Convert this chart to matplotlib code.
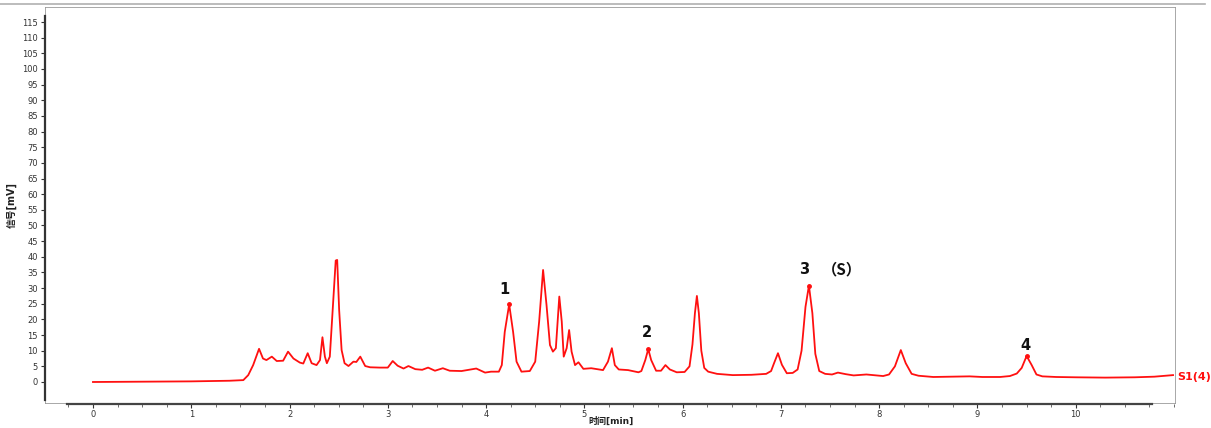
import matplotlib.pyplot as plt
from matplotlib.lines import Line2D
from matplotlib.patches import Rectangle
from matplotlib.ticker import MultipleLocator

# chromatogram trace: time [min], signal [mV]
time_min = [
    0.0, 0.5, 1.0, 1.39, 1.53, 1.58, 1.63, 1.69, 1.73, 1.765, 1.82, 1.87,
    1.935, 1.985, 2.04, 2.105, 2.14, 2.185, 2.225, 2.275, 2.31, 2.335, 2.36,
    2.38, 2.41, 2.445, 2.47, 2.485, 2.505, 2.53, 2.56, 2.60, 2.65, 2.68, 2.72,
    2.77, 2.82, 2.92, 3.0, 3.05, 3.10, 3.16, 3.21, 3.28, 3.35, 3.41, 3.48,
    3.56, 3.63, 3.75, 3.90, 3.99, 4.05, 4.13, 4.16, 4.19, 4.235, 4.275, 4.31,
    4.36, 4.445, 4.50, 4.54, 4.58, 4.615, 4.65, 4.68, 4.71, 4.745, 4.77, 4.79,
    4.82, 4.845, 4.87, 4.905, 4.94, 4.99, 5.07, 5.19, 5.24, 5.28, 5.31, 5.35,
    5.445, 5.55, 5.58, 5.62, 5.65, 5.68, 5.73, 5.78, 5.825, 5.87, 5.94, 6.02,
    6.07, 6.10, 6.125, 6.145, 6.165, 6.19, 6.22, 6.26, 6.35, 6.51, 6.70, 6.85,
    6.90, 6.93, 6.97, 7.01, 7.06, 7.12, 7.17, 7.21, 7.25, 7.285, 7.32, 7.35,
    7.39, 7.45, 7.52, 7.58, 7.66, 7.74, 7.87, 8.04, 8.10, 8.16, 8.22, 8.27,
    8.33, 8.40, 8.55, 8.75, 8.92, 9.05, 9.23, 9.33, 9.40, 9.45, 9.50, 9.55,
    9.60, 9.66, 9.80, 10.0, 10.3, 10.6, 10.8, 10.99,
]
signal_mv = [
    0.0, 0.1, 0.2, 0.4, 0.6, 2.2, 5.4, 10.6, 7.5, 7.0, 8.1, 6.7,
    6.8, 9.7, 7.5, 6.2, 5.9, 9.2, 6.0, 5.4, 7.0, 14.3, 8.1,
    6.0, 8.1, 26.2, 38.8, 39.0, 23.0, 10.2, 6.0, 5.1, 6.5, 6.4, 8.1,
    5.1, 4.7, 4.6, 4.6, 6.7, 5.2, 4.3, 5.1, 4.1, 3.9, 4.6, 3.6,
    4.4, 3.6, 3.5, 4.3, 3.0, 3.3, 3.3, 5.4, 16.0, 24.8, 16.0, 6.5,
    3.3, 3.5, 6.5, 19.3, 35.8, 24.6, 11.8, 9.7, 10.8, 27.3, 19.3, 8.1,
    10.8, 16.6, 9.7, 5.4, 6.3, 4.2, 4.4, 3.8, 6.5, 10.8, 5.4, 4.0,
    3.8, 3.1, 3.5, 7.0, 10.5, 7.0, 3.6, 3.6, 5.4, 4.0, 3.1, 3.2,
    5.0, 12.0, 22.0, 27.5, 22.0, 10.0, 4.5, 3.3, 2.6, 2.2, 2.3, 2.6,
    3.5, 6.0, 9.2, 5.5, 2.8, 2.9, 4.0, 10.0, 24.0, 30.8, 22.0, 9.0,
    3.5, 2.6, 2.4, 3.0, 2.5, 2.1, 2.4, 1.9, 2.4, 5.0, 10.2, 6.0,
    2.6, 2.0, 1.6, 1.7, 1.8, 1.6, 1.6, 1.9, 2.7, 4.5, 8.3, 5.5,
    2.4, 1.8, 1.6, 1.5, 1.4, 1.5, 1.7, 2.2,
]

# labelled peaks: label text, apex time, apex height
peak_labels = ["1", "2", "3", "4"]
peak_times = [4.235, 5.65, 7.285, 9.50]
peak_heights = [24.8, 10.5, 30.8, 8.3]
label_x = [4.19, 5.64, 7.24, 9.49]
label_y = [29.4, 15.7, 35.8, 11.8]
std_tag = "（S）"  # reference-standard tag next to peak 3
std_tag_x = 7.62

plt.rcParams['font.family'] = ['DejaVu Sans', 'Noto Sans CJK SC']

fig = plt.figure(figsize=(12.11, 4.28), dpi=100)
ax = fig.add_axes([45 / 1211, 1 - 404 / 428, (1176 - 45) / 1211, (404 - 7) / 428])

ax.plot(time_min, signal_mv, color='#ff1010', lw=1.3)
ax.plot(peak_times, peak_heights, 'o', color='#ff1010', ms=2.5)

for lab, lx, ly in zip(peak_labels, label_x, label_y):
    ax.text(lx, ly, lab, fontsize=10.5, fontweight='bold', color='#111111',
            ha='center', va='center')
ax.text(std_tag_x, label_y[2], std_tag, fontsize=11, fontweight='bold',
        color='#111111', ha='center', va='center',
        family=['Noto Sans CJK SC', 'DejaVu Sans'])

ax.set_xlim(-0.488, 11.02)
ax.set_ylim(-7.03, 119.8)

# gray outer frame, dark axis lines
for s in ax.spines.values():
    s.set_visible(False)
ax.add_patch(Rectangle((0, 0), 1, 1, transform=ax.transAxes, fill=False,
                       ec='#9a9a9a', lw=1.2, zorder=0))
ax.spines['left'].set_visible(True)
ax.spines['left'].set_bounds(-5.8, 117)
ax.spines['left'].set_color('#333333')
ax.spines['left'].set_linewidth(1.6)
ax.spines['bottom'].set_visible(True)
ax.spines['bottom'].set_position(('data', -7.03))
ax.spines['bottom'].set_bounds(-0.26, 10.78)
ax.spines['bottom'].set_color('#444444')
ax.spines['bottom'].set_linewidth(1.6)

ax.set_yticks(range(0, 120, 5))
ax.xaxis.set_minor_locator(MultipleLocator(0.25))
ax.set_xticks(range(0, 11))
ax.tick_params(axis='both', which='major', labelsize=6, colors='#333333',
               length=3, width=0.8, pad=2)
ax.tick_params(axis='x', which='minor', length=2, width=0.6, color='#555555')
ax.tick_params(axis='x', pad=1.5)

ax.set_ylabel('信号[mV]', fontsize=7, fontweight='bold', color='#222222',
              labelpad=4)
ax.set_xlabel('时间[min]', fontsize=6.5, fontweight='bold', color='#222222')
ax.xaxis.label.set_va('center')
ax.xaxis.set_label_coords((611 - 45) / (1176 - 45), -17.5 / 397)

ax.text(1.001, (382 - 377) / 3.13 / 126.83 + 7.03 / 126.83, 'S1(4)',
        transform=ax.transAxes, fontsize=8, fontweight='bold',
        color='#ff1010', ha='left', va='center')

fig.add_artist(Line2D([0, 1205 / 1211], [1 - 4 / 428, 1 - 4 / 428],
                      transform=fig.transFigure, color='#b0b0b0', lw=1.2))

fig.savefig('out.png', dpi=100)
